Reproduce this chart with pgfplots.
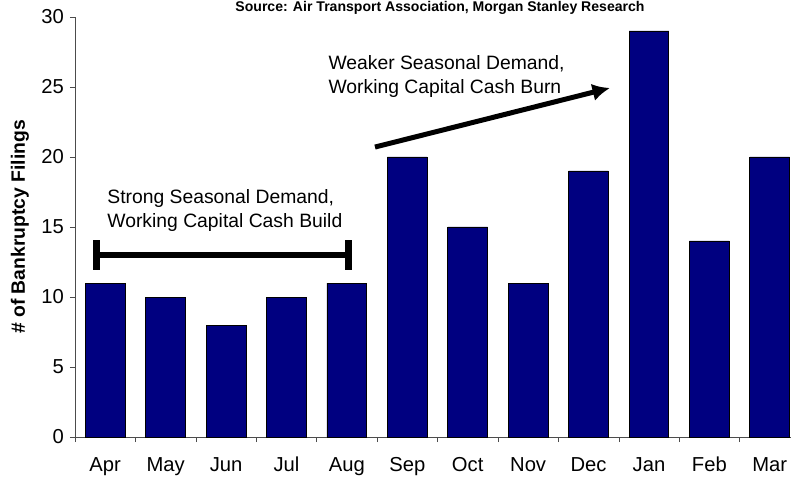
\documentclass[border=0pt]{standalone}
\usepackage{fontspec}
\setmainfont{Liberation Sans}
\usepackage{pgfplots}
\pgfplotsset{compat=1.18}
\usetikzlibrary{arrows.meta}
\definecolor{barnavy}{RGB}{0,0,128}

\begin{document}
\begin{tikzpicture}
\begin{axis}[
    at={(0,0)}, anchor=south west,
    scale only axis,
    width=14.5cm, height=8.4cm,
    xmin=-0.5, xmax=11.5,
    ymin=0, ymax=30,
    axis x line*=bottom, axis y line*=left,
    axis line style={black!70},
    ybar, bar width=0.66,
    xtick={0,...,11},
    xticklabels={Apr,May,Jun,Jul,Aug,Sep,Oct,Nov,Dec,Jan,Feb,Mar},
    major x tick style={draw=none},
    minor xtick={-0.5,0.5,...,11.5},
    ytick={0,5,...,30},
    tick align=outside,
    tick style={black!70},
    major tick length=0.1cm, minor tick length=0.1cm,
    /pgf/number format/assume math mode=true,
    ticklabel style={font=\fontsize{11.5}{13}\selectfont},
    xticklabel style={yshift=-0.18cm},
    ylabel={\textbf{\# of Bankruptcy Filings}},
    every axis y label/.style={at={(axis description cs:0,0.5)}, xshift=-1.1cm, rotate=90, anchor=center, font=\fontsize{11}{13}\selectfont},
    clip=false,
]
\addplot[fill=barnavy, draw=black, line width=0.5pt] coordinates {
    (0,11) (1,10) (2,8) (3,10) (4,11) (5,20)
    (6,15) (7,11) (8,19) (9,29) (10,14) (11,20)
};
% bracket
\draw[line width=0.12cm] (axis cs:-0.136,13) -- (axis cs:4.02,13);
\draw[line width=0.14cm] (axis cs:-0.136,11.93) -- (axis cs:-0.136,14.07);
\draw[line width=0.14cm] (axis cs:4.02,11.93) -- (axis cs:4.02,14.07);
\node[anchor=north west, align=left, inner sep=0pt, font=\fontsize{11}{13.8}\selectfont]
    at (axis cs:0.03,17.7) {Strong Seasonal Demand,\\Working Capital Cash Build};
% arrow
\draw[line width=0.1cm, -{Latex[length=0.35cm,width=0.35cm]}] (axis cs:4.465,20.71) -- (axis cs:8.355,24.93);
\node[anchor=north west, align=left, inner sep=0pt, font=\fontsize{11}{13.8}\selectfont]
    at (axis cs:3.69,27.3) {Weaker Seasonal Demand,\\Working Capital Cash Burn};
\end{axis}
\node[anchor=base, font=\bfseries\fontsize{8}{10}\selectfont] at (7.3,8.51)
    {Source: Air Transport Association, Morgan Stanley Research};
\pgfresetboundingbox
\path[use as bounding box] (-1.5,-0.84) rectangle (14.32,8.74);
\end{tikzpicture}
\end{document}
